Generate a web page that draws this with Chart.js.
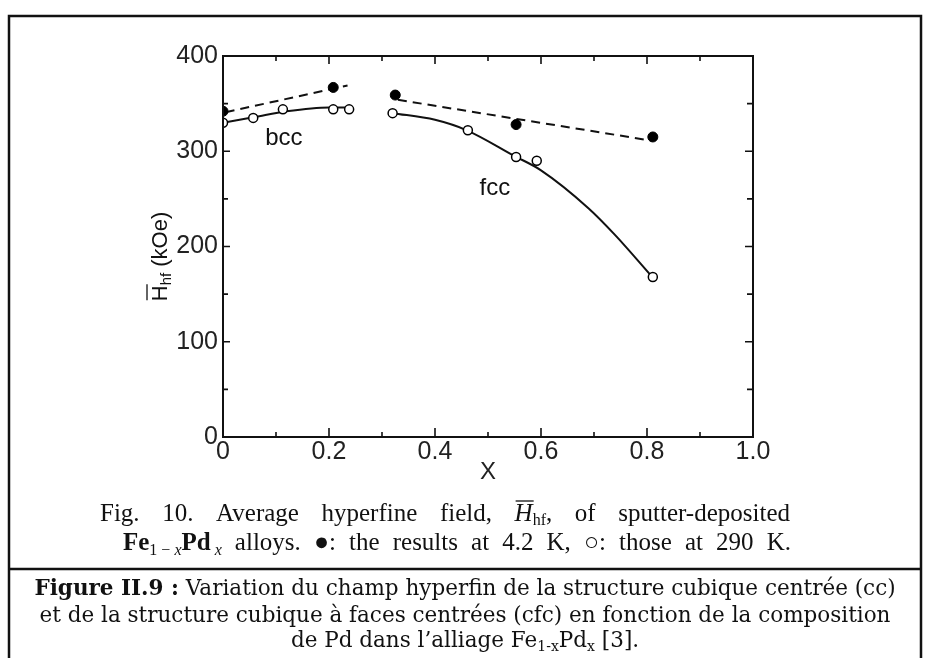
<!DOCTYPE html>
<html>
<head>
<meta charset="utf-8">
<script src="https://cdn.jsdelivr.net/npm/chart.js@4.4.1/dist/chart.umd.min.js"></script>
<style>
  html, body { margin: 0; padding: 0; background: #fff; }
  #wrap { position: relative; width: 925px; height: 658px; }
</style>
</head>
<body>
<div id="wrap"><canvas id="myChart"></canvas></div>
<script>
// Average hyperfine field of Fe(1-x)Pd(x) (kOe)
const bccX290 = [0, 0.057, 0.113, 0.208, 0.238];
const bcc290K = [330, 335, 344, 344, 344];
const bccX4 = [0, 0.208];
const bcc4K = [342, 367];
const fccX290 = [0.32, 0.462, 0.553, 0.592, 0.811];
const fcc290K = [340, 322, 294, 290, 168];
const fccX4 = [0.325, 0.553, 0.811];
const fcc4K = [359, 328, 315];

// guide lines drawn by hand in the original figure
const bccCurveX = [0, 0.06, 0.12, 0.2, 0.24];
const bccCurveY = [330, 336, 342, 346, 346];
const fccCurveX = [0.32, 0.4, 0.46, 0.55, 0.6, 0.69, 0.74, 0.81];
const fccCurveY = [340, 333, 322, 295, 280, 240, 212, 168];
const bccDashX = [0.005, 0.235];
const bccDashY = [341, 369];
const fccDashX = [0.33, 0.81];
const fccDashY = [354, 311];

const xTicks = [0, 0.2, 0.4, 0.6, 0.8, 1.0];
const xTickLabels = ['0', '0.2', '0.4', '0.6', '0.8', '1.0'];
const yTicks = [0, 100, 200, 300, 400];
const phaseLabels = ['bcc', 'fcc'];

const INK = '#111';
const SANS = '"Liberation Sans", Arial, sans-serif';
const SERIF = '"Liberation Serif", "Times New Roman", serif';
const CAP = '"DejaVu Serif", serif';

function pts(xs, ys) {
  return xs.map((x, i) => ({ x: x, y: ys[i] }));
}

// text made of runs (font changes, subscripts, overbars); spaces can be stretched
function words(s, f, dy) {
  const out = [];
  s.split(' ').forEach((w, i) => {
    if (i > 0) out.push({ t: ' ', f: f, gap: true, dy: dy });
    if (w) out.push({ t: w, f: f, dy: dy });
  });
  return out;
}
function runsWidth(ctx, runs) {
  let w = 0;
  runs.forEach(r => { ctx.font = r.f; w += ctx.measureText(r.t).width; });
  return w;
}
function drawRuns(ctx, runs, x, y, width) {
  const natural = runsWidth(ctx, runs);
  const gaps = runs.filter(r => r.gap).length;
  const extra = width && gaps ? (width - natural) / gaps : 0;
  let cx = x;
  runs.forEach(r => {
    ctx.font = r.f;
    const w = ctx.measureText(r.t).width;
    ctx.fillText(r.t, cx, y + (r.dy || 0));
    if (r.over) {
      ctx.beginPath();
      ctx.lineWidth = 1.3;
      ctx.moveTo(cx + 1, y - r.over);
      ctx.lineTo(cx + w + 1, y - r.over);
      ctx.stroke();
    }
    cx += w + (r.gap ? extra : 0);
  });
}

const decor = {
  id: 'decor',
  beforeDraw(chart) {
    const ctx = chart.ctx;
    ctx.save();
    ctx.fillStyle = '#fff';
    ctx.fillRect(0, 0, chart.width, chart.height);
    ctx.restore();
  },
  afterDraw(chart) {
    const { ctx, chartArea: a } = chart;
    const xs = chart.scales.x, ys = chart.scales.y;
    ctx.save();
    ctx.strokeStyle = INK;
    ctx.fillStyle = INK;

    // plot frame with inward ticks on all four sides
    ctx.lineWidth = 2;
    ctx.strokeRect(a.left, a.top, a.right - a.left, a.bottom - a.top);
    ctx.lineWidth = 1.6;
    ctx.beginPath();
    for (let i = 1; i < 10; i++) {
      const px = xs.getPixelForValue(i / 10);
      const major = i % 2 === 0;
      ctx.moveTo(px, a.bottom); ctx.lineTo(px, a.bottom - (major ? 9 : 5));
      ctx.moveTo(px, a.top); ctx.lineTo(px, a.top + (major ? 8 : 5));
    }
    for (let i = 1; i < 8; i++) {
      const py = ys.getPixelForValue(i * 50);
      const major = i % 2 === 0;
      ctx.moveTo(a.left, py); ctx.lineTo(a.left + (major ? 7 : 5), py);
      ctx.moveTo(a.right, py); ctx.lineTo(a.right - (major ? 8 : 6), py);
    }
    ctx.stroke();

    // phase labels
    ctx.font = '24px ' + SANS;
    ctx.textAlign = 'center';
    ctx.textBaseline = 'middle';
    ctx.fillText(phaseLabels[0], xs.getPixelForValue(0.115), ys.getPixelForValue(313));
    ctx.fillText(phaseLabels[1], xs.getPixelForValue(0.513), ys.getPixelForValue(261));

    // y axis title: H-bar hf (kOe), rotated
    ctx.textAlign = 'left';
    ctx.textBaseline = 'alphabetic';
    const yTitle = [
      { t: 'H', f: '22px ' + SANS, over: 20 },
      { t: 'hf', f: '15px ' + SANS, dy: 4 },
      { t: ' (kOe)', f: '22px ' + SANS }
    ];
    const tw = runsWidth(ctx, yTitle);
    ctx.save();
    ctx.translate(167, (a.top + a.bottom) / 2 + 10);
    ctx.rotate(-Math.PI / 2);
    drawRuns(ctx, yTitle, -tw / 2, 0);
    ctx.restore();

    // original figure caption (Times-like)
    const s25 = '25px ' + SERIF;
    const line1 = [].concat(
      words('Fig. 10. Average hyperfine field,', s25),
      [{ t: ' ', f: s25, gap: true },
       { t: 'H', f: 'italic 25px ' + SERIF, over: 20 },
       { t: 'hf', f: '16px ' + SERIF, dy: 4 },
       { t: ',', f: s25 }],
      words(' of sputter-deposited', s25)
    );
    drawRuns(ctx, line1, 100, 521, 690);
    const line2 = [].concat(
      [{ t: 'Fe', f: 'bold 25px ' + SERIF },
       { t: '1 \u2212 ', f: '16px ' + SERIF, dy: 5 },
       { t: 'x', f: 'italic 16px ' + SERIF, dy: 5 },
       { t: 'Pd', f: 'bold 25px ' + SERIF },
       { t: ' x', f: 'italic 16px ' + SERIF, dy: 5 }],
      words(' alloys. \u25CF: the results at 4.2 K, \u25CB: those at 290 K.', s25)
    );
    drawRuns(ctx, line2, 123, 550, 668);

    // outer box and divider
    ctx.lineWidth = 2.5;
    ctx.beginPath();
    ctx.moveTo(9, 660); ctx.lineTo(9, 16); ctx.lineTo(921, 16); ctx.lineTo(921, 660);
    ctx.moveTo(9, 569); ctx.lineTo(921, 569);
    ctx.stroke();

    // French caption
    const fs = 21.5;
    const f = fs + 'px ' + CAP, fb = 'bold ' + fs + 'px ' + CAP, fsub = Math.round(fs * 0.65) + 'px ' + CAP;
    const cap = [
      [].concat([{ t: 'Figure II.9 :', f: fb }], words(' Variation du champ hyperfin de la structure cubique centr\u00e9e (cc)', f)),
      words('et de la structure cubique \u00e0 faces centr\u00e9es (cfc) en fonction de la composition', f),
      [].concat(words('de Pd dans l\u2019alliage Fe', f),
        [{ t: '1-x', f: fsub, dy: 4 }, { t: 'Pd', f: f }, { t: 'x', f: fsub, dy: 4 }],
        words(' [3].', f))
    ];
    const baseY = [595, 622, 647];
    cap.forEach((runs, i) => {
      const w = runsWidth(ctx, runs);
      drawRuns(ctx, runs, 465 - w / 2, baseY[i]);
    });
    ctx.restore();
  }
};

const ctx = document.getElementById('myChart').getContext('2d');
new Chart(ctx, {
  type: 'scatter',
  data: {
    datasets: [
      { label: '4.2 K bcc', data: pts(bccX4, bcc4K), order: 0,
        pointRadius: 5, backgroundColor: '#000', borderColor: '#000', borderWidth: 1 },
      { label: '4.2 K fcc', data: pts(fccX4, fcc4K), order: 0,
        pointRadius: 5, backgroundColor: '#000', borderColor: '#000', borderWidth: 1 },
      { label: '290 K bcc', data: pts(bccX290, bcc290K), order: 0,
        pointRadius: 4.5, backgroundColor: '#fff', borderColor: '#000', borderWidth: 1.5 },
      { label: '290 K fcc', data: pts(fccX290, fcc290K), order: 0,
        pointRadius: 4.5, backgroundColor: '#fff', borderColor: '#000', borderWidth: 1.5 },
      { label: 'bcc fit', data: pts(bccCurveX, bccCurveY), order: 1, showLine: true,
        pointRadius: 0, borderColor: INK, borderWidth: 2, tension: 0.4, cubicInterpolationMode: 'monotone' },
      { label: 'fcc fit', data: pts(fccCurveX, fccCurveY), order: 1, showLine: true,
        pointRadius: 0, borderColor: INK, borderWidth: 2, tension: 0.4, cubicInterpolationMode: 'monotone' },
      { label: 'bcc 4.2 K', data: pts(bccDashX, bccDashY), order: 1, showLine: true,
        pointRadius: 0, borderColor: INK, borderWidth: 2, borderDash: [9, 6] },
      { label: 'fcc 4.2 K', data: pts(fccDashX, fccDashY), order: 1, showLine: true,
        pointRadius: 0, borderColor: INK, borderWidth: 2, borderDash: [9, 6] }
    ]
  },
  options: {
    responsive: true,
    maintainAspectRatio: false,
    animation: false,
    layout: { padding: { left: 161, top: 56, right: 172, bottom: 171 } },
    plugins: { legend: { display: false }, tooltip: { enabled: false } },
    scales: {
      x: {
        type: 'linear', min: 0, max: 1,
        afterBuildTicks: s => { s.ticks = xTicks.map(v => ({ value: v })); },
        afterFit: s => { s.height = 50; },
        grid: { display: false, drawTicks: false },
        border: { display: true, color: INK, width: 2 },
        ticks: {
          padding: 0, color: '#222', font: { family: SANS, size: 25 },
          callback: v => xTickLabels[xTicks.indexOf(v)]
        },
        title: { display: true, text: 'X', color: '#222', font: { family: SANS, size: 24 }, padding: 0 }
      },
      y: {
        type: 'linear', min: 0, max: 400,
        afterBuildTicks: s => { s.ticks = yTicks.map(v => ({ value: v })); },
        afterFit: s => { s.width = 62; },
        grid: { display: false, drawTicks: false },
        border: { display: true, color: INK, width: 2 },
        ticks: { padding: 5, color: '#222', font: { family: SANS, size: 25 } }
      }
    }
  },
  plugins: [decor]
});
</script>
</body>
</html>
